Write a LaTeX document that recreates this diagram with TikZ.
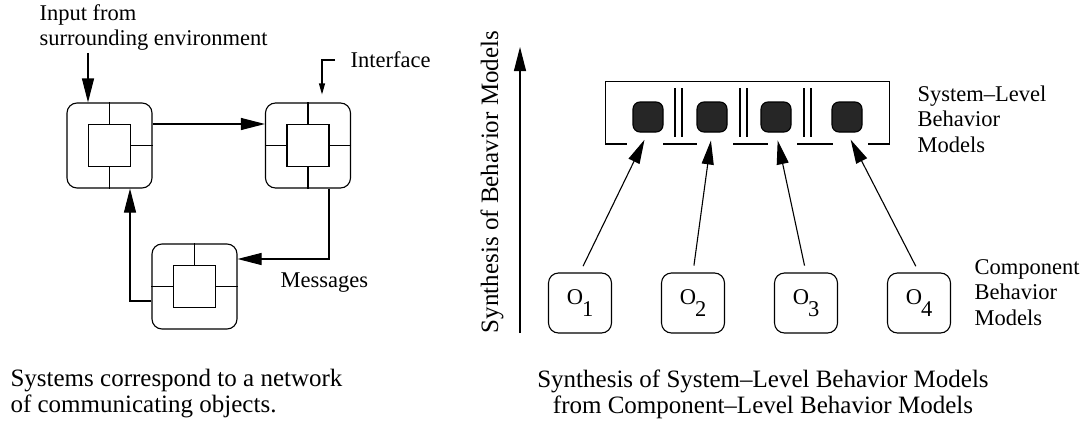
\documentclass[tikz,border=0pt]{standalone}
\usepackage{fontspec}
\setmainfont{Liberation Serif}
\usetikzlibrary{arrows.meta, positioning}

\begin{document}
\begin{tikzpicture}[
    x=1pt, y=-1pt,
    line width=1.1pt,
    every node/.style={font=\fontsize{22.5}{25.5}\selectfont},
    objbox/.style={rectangle, rounded corners=10pt, draw, minimum size=85pt, inner sep=0pt},
    core/.style={rectangle, draw, minimum size=42pt, inner sep=0pt},
    model/.style={rectangle, rounded corners=7pt, draw, fill=black!85, minimum size=30pt, inner sep=0pt},
    comp/.style={rectangle, rounded corners=10pt, draw, minimum width=63pt, minimum height=60pt, inner sep=0pt},
    lbl/.style={align=left, inner sep=0pt, anchor=north west},
    caption/.style={font=\fontsize{25}{26}\selectfont, inner sep=0pt},
    arr/.style={-{Triangle[length=24pt, width=12pt]}},
    small arr/.style={-{Triangle[length=11pt, width=6pt]}}
]
\useasboundingbox (0,0) rectangle (1086,428);

% network of communicating objects
\node[objbox] (obj1) at (109.5,145.5) {};
\node[objbox] (obj2) at (308,145.5) {};
\node[objbox] (obj3) at (194.5,286.5) {};
\foreach \o in {1,2,3}
  \node[core] (core\o) at (obj\o) {};
\foreach \o/\sides in {1/{north,south,east}, 2/{north,south,east,west}, 3/{north,west,east}}
  \foreach \s in \sides
    \draw (obj\o.\s) -- (core\o.\s);

\coordinate (env) at (88,53);
\coordinate (ifc) at (335,60);
\draw[arr] (env) -- ([xshift=-21.5pt]obj1.north);
\draw[small arr] (ifc) -| ([xshift=14pt, yshift=8pt]obj2.north);
\draw[arr] ([yshift=21.5pt]obj1.east) -- ([yshift=21.5pt]obj2.west);
\draw[arr] ([xshift=21pt]obj2.south) |- ([yshift=27.5pt]obj3.east);
\draw[arr] ([yshift=-14.5pt]obj3.west) -| ([xshift=20.5pt]obj1.south);

\node[lbl] (envlbl) at (39,4) {Input from\\surrounding environment};
\node[inner sep=0pt, anchor=base west] (ifclbl) at (350,67) {Interface};
\node[inner sep=0pt, anchor=base west] (msglbl) at (280,287) {Messages};
\node[caption, align=left, anchor=north west] (leftcap) at (10,369)
  {Systems correspond to a network\\of communicating objects.};

% synthesis of behavior models
\coordinate (axb) at (520,333);
\coordinate (axt) at (520,47);
\draw[arr] (axb) -- (axt);
\node[caption, rotate=90] (axlbl) at (492,182) {Synthesis of Behavior Models};

\node[minimum width=283pt, minimum height=62pt, inner sep=0pt] (sys) at (747.5,113) {};
\draw (sys.south west) -- (sys.north west) -- (sys.north east) -- (sys.south east);
\foreach \a/\b in {606/627, 663/697, 733/768, 797/833, 868/889}
  \draw (\a,144) -- (\b,144);
\foreach \x in {675, 740, 804} {
  \draw (\x,88) -- (\x,137);
  \draw (\x+7,88) -- (\x+7,137);
}
\foreach \i/\x in {1/648, 2/712, 3/776, 4/847}
  \node[model] (m\i) at (\x,117) {};

\foreach \i/\x in {1/580, 2/693, 3/806, 4/919}
  \node[comp] (o\i) at (\x,303) {O\kern-1pt\raisebox{-0.55em}{\i}};
\foreach \i in {1,...,4}
  \draw[arr, shorten <=7pt, shorten >=8pt] (o\i.north) -- (m\i.south);

\node[lbl] (syslbl) at (917,85) {System--Level\\Behavior\\Models};
\node[lbl] (complbl) at (974,259) {Component\\Behavior\\Models};
\node[caption, align=center, anchor=north] (rightcap) at (763,369)
  {Synthesis of System--Level Behavior Models\\from Component--Level Behavior Models};
\end{tikzpicture}
\end{document}
